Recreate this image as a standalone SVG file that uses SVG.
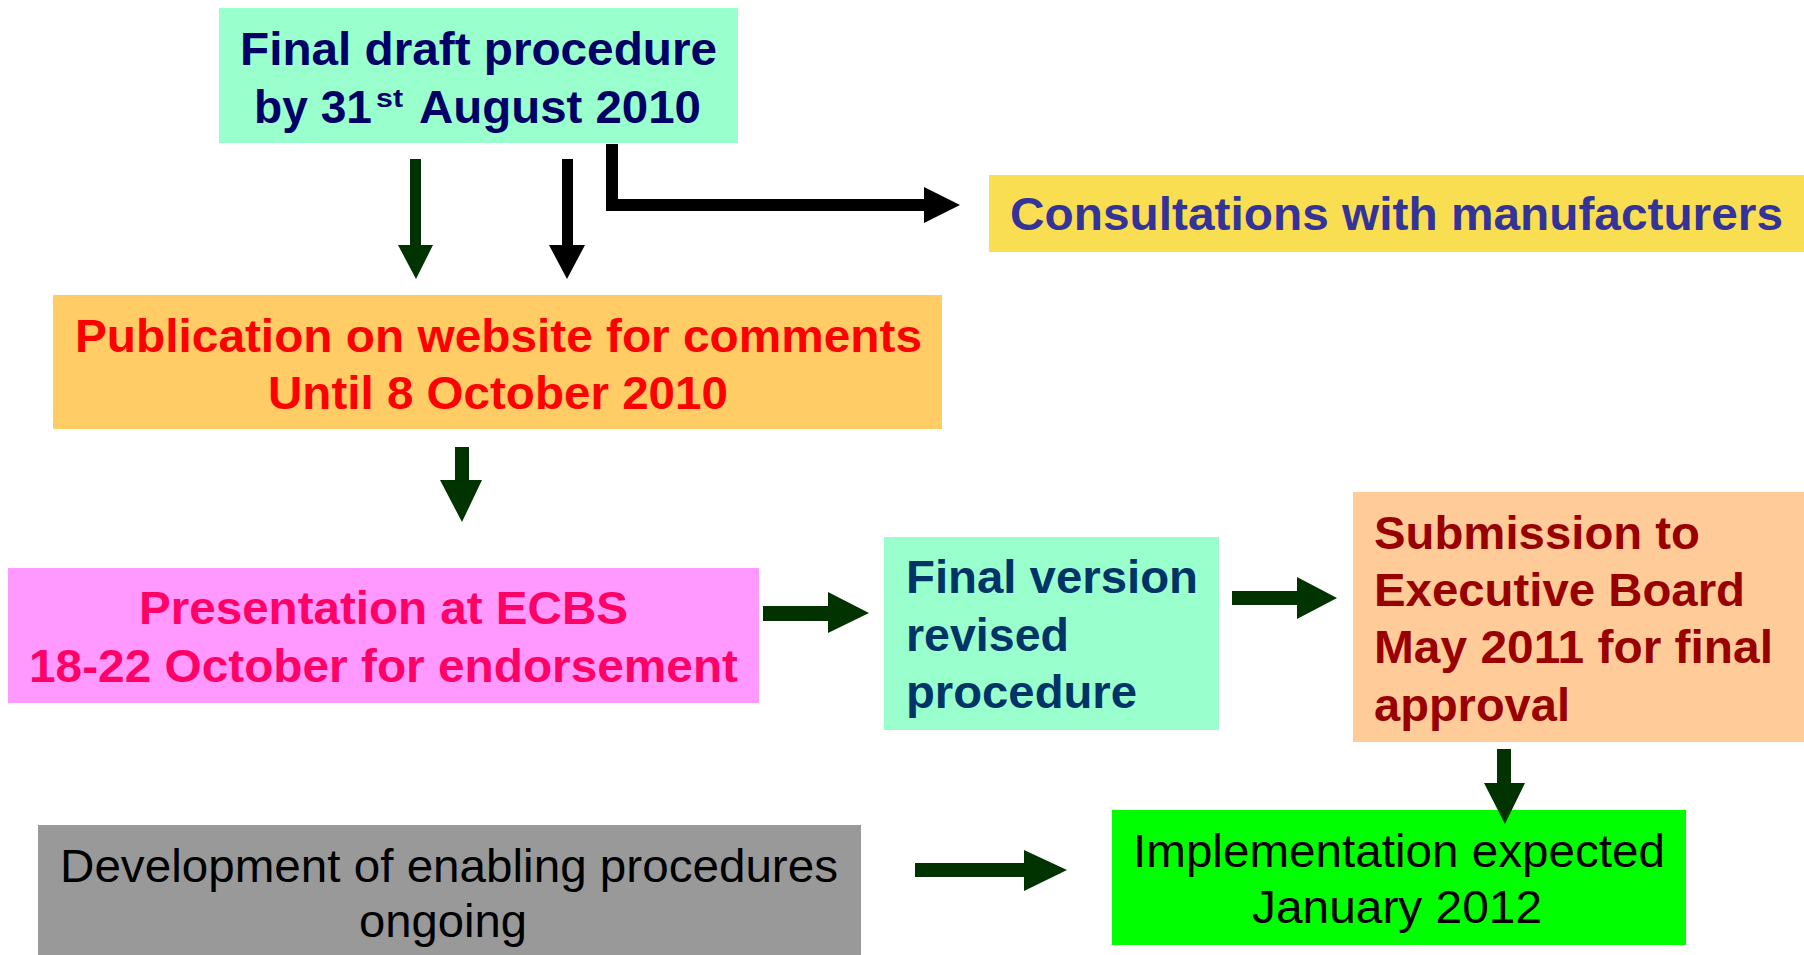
<svg xmlns="http://www.w3.org/2000/svg" width="1804" height="955" viewBox="0 0 1804 955">
<style>
text{font-family:"Liberation Sans",Arial,sans-serif;font-size:46px;font-weight:bold}
.reg{font-weight:normal;font-size:47px;fill:#000}
.g{fill:#003300}
.k{fill:#000}
</style>
<rect width="1804" height="955" fill="#fff"/>
<g id="n-final-draft">
<rect x="219" y="8" width="519" height="135" fill="#99FFCC"/>
<text fill="#000066"><tspan x="240" y="65" textLength="477" lengthAdjust="spacingAndGlyphs">Final draft procedure</tspan></text>
<text fill="#000066"><tspan x="254" y="123" textLength="118" lengthAdjust="spacingAndGlyphs">by 31</tspan><tspan x="376" y="107" font-size="26" textLength="27" lengthAdjust="spacingAndGlyphs">st</tspan><tspan x="419" y="123" textLength="282" lengthAdjust="spacingAndGlyphs">August 2010</tspan></text>
</g>
<g id="n-consult">
<rect x="989" y="175" width="815" height="77" fill="#FADE52"/>
<text x="1010" y="230" fill="#333399" textLength="773" lengthAdjust="spacingAndGlyphs">Consultations with manufacturers</text>
</g>
<g id="n-publication">
<rect x="53" y="295" width="889" height="134" fill="#FFCC66"/>
<text x="75" y="352" fill="#FF0000" textLength="847" lengthAdjust="spacingAndGlyphs">Publication on website for comments</text>
<text x="268" y="409" fill="#FF0000" textLength="460" lengthAdjust="spacingAndGlyphs">Until 8 October 2010</text>
</g>
<g id="n-presentation">
<rect x="8" y="568" width="751" height="135" fill="#FF99FF"/>
<text x="139" y="624" fill="#FF0066" textLength="489" lengthAdjust="spacingAndGlyphs">Presentation at ECBS</text>
<text x="29" y="682" fill="#FF0066" textLength="709" lengthAdjust="spacingAndGlyphs">18-22 October for endorsement</text>
</g>
<g id="n-final-version">
<rect x="884" y="537" width="335" height="193" fill="#99FFCC"/>
<text x="906" y="593" fill="#003366" textLength="292" lengthAdjust="spacingAndGlyphs">Final version</text>
<text x="906" y="651" fill="#003366" textLength="163" lengthAdjust="spacingAndGlyphs">revised</text>
<text x="906" y="708" fill="#003366" textLength="231" lengthAdjust="spacingAndGlyphs">procedure</text>
</g>
<g id="n-submission">
<rect x="1353" y="492" width="451" height="250" fill="#FFCC99"/>
<text x="1374" y="549" fill="#990000" textLength="326" lengthAdjust="spacingAndGlyphs">Submission to</text>
<text x="1374" y="606" fill="#990000" textLength="371" lengthAdjust="spacingAndGlyphs">Executive Board</text>
<text x="1374" y="663" fill="#990000" textLength="399" lengthAdjust="spacingAndGlyphs">May 2011 for final</text>
<text x="1374" y="721" fill="#990000" textLength="196" lengthAdjust="spacingAndGlyphs">approval</text>
</g>
<g id="n-development">
<rect x="38" y="825" width="823" height="130" fill="#999999"/>
<text class="reg" x="60" y="882" textLength="778" lengthAdjust="spacingAndGlyphs">Development of enabling procedures</text>
<text class="reg" x="359" y="937" textLength="168" lengthAdjust="spacingAndGlyphs">ongoing</text>
</g>
<g id="n-implementation">
<rect x="1112" y="810" width="574" height="135" fill="#00FF00"/>
<text class="reg" x="1133" y="867" textLength="532" lengthAdjust="spacingAndGlyphs">Implementation expected</text>
<text class="reg" x="1252" y="923" textLength="290" lengthAdjust="spacingAndGlyphs">January 2012</text>
</g>
<g id="connectors">
<polygon class="g" points="410,159 421,159 421,245 433,245 416,279 398,245 410,245"/>
<polygon class="k" points="562,159 573,159 573,245 585,245 567,279 549,245 562,245"/>
<polygon class="k" points="606,144 618,144 618,199 924,199 924,187 960,205 924,223 924,211 606,211"/>
<polygon class="g" points="455,447 469,447 469,480 482,480 462,522 440,480 455,480"/>
<polygon class="g" points="763,606 828,606 828,592 869,613 828,633 828,621 763,621"/>
<polygon class="g" points="1232,591 1297,591 1297,577 1337,598 1297,619 1297,605 1232,605"/>
<polygon class="g" points="1497,749 1511,749 1511,783 1525,783 1505,824 1484,783 1497,783"/>
<polygon class="g" points="915,863 1024,863 1024,850 1067,870 1024,891 1024,877 915,877"/>
</g>
</svg>
